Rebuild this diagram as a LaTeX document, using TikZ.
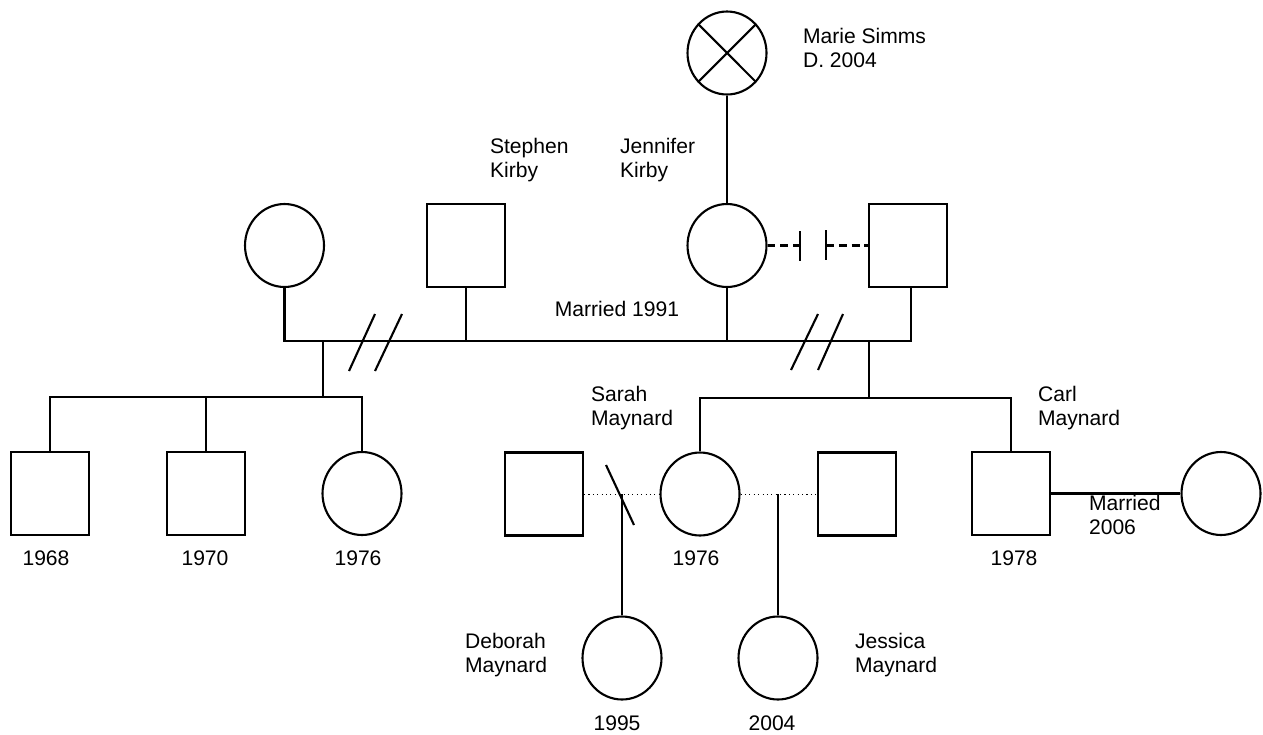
\documentclass[tikz,border=0pt]{standalone}
\usepackage{fontspec}
\setmainfont{Liberation Sans}
\usetikzlibrary{shapes.geometric, positioning, calc}

\begin{document}
\begin{tikzpicture}[x=0.02cm, y=-0.02cm, line width=1.2pt,
    male/.style={draw, rectangle, minimum width=1.56cm, minimum height=1.66cm, inner sep=0pt},
    female/.style={draw, ellipse, minimum width=1.58cm, minimum height=1.66cm, inner sep=0pt},
    lbl/.style={font=\fontsize{12}{14}\selectfont, align=left, anchor=north west, inner sep=0pt},
    yr/.style={font=\fontsize{12}{14}\selectfont, anchor=base, inner sep=0pt},
    partner/.style={line width=0.5pt, dash pattern=on 0.6pt off 1.9pt},
    divdash/.style={dash pattern=on 4.5pt off 2.8pt}]
    \useasboundingbox (0,0) rectangle (1263,734);

    % grandmother
    \node[female] (marie) at (727,53) {};
    \draw (marie.45) -- (marie.225) (marie.135) -- (marie.315);
    \node[lbl] (marieLbl) at (802,27) {Marie Simms\\D. 2004};

    % parents
    \node[female] (firstWife) at (284.5,245.5) {};
    \node[male] (stephen) at (466,245.5) {};
    \node[female] (jennifer) at (727,245.5) {};
    \node[male] (exHusband) at (908,245.5) {};
    \node[lbl] (stephenLbl) at (489,137) {Stephen\\Kirby};
    \node[lbl] (jenniferLbl) at (619,137) {Jennifer\\Kirby};
    \draw (marie) -- (jennifer);

    % divorce
    \coordinate (barA) at (800,245.5);
    \coordinate (barB) at (826,245.5);
    \draw[divdash] (jennifer.east) -- (barA);
    \draw (800,231) -- (800,261) (826,230) -- (826,260);
    \draw[divdash] (barB) -- (exHusband.west);

    % marriage line
    \coordinate (mL) at (284.5,341);
    \coordinate (mR) at (911,341);
    \draw (firstWife.south) -- (firstWife.south |- mL) -- (mR) -- (exHusband.south -| mR);
    \draw (stephen.south) -- (stephen.south |- mL);
    \draw (jennifer.south) -- (jennifer.south |- mL);
    \node[yr] (m1991) at (617,316) {Married 1991};
    \draw (375,314) -- (349,371) (402,314) -- (375,371);
    \draw (818,314) -- (791,370) (843,314) -- (818,370);

    % children of the first marriage
    \coordinate (sibL) at (323,397);
    \node[male] (k1968) at (50,493.5) {};
    \node[male] (k1970) at (206,493.5) {};
    \node[female] (k1976) at (362,493.5) {};
    \draw (sibL |- mL) -- (sibL);
    \draw (k1968.north) -- (k1968.north |- sibL) -- (k1976.north |- sibL) -- (k1976.north);
    \draw (k1970.north) -- (k1970.north |- sibL);
    \node[yr] (y1968) at (46,565) {1968};
    \node[yr] (y1970) at (205,565) {1970};
    \node[yr] (y1976a) at (358,565) {1976};

    % children of Jennifer
    \coordinate (sibR) at (869,398);
    \node[female] (sarah) at (700,494) {};
    \node[male] (carl) at (1011,493.5) {};
    \draw (sibR |- mR) -- (sibR);
    \draw (sarah.north) -- (sarah.north |- sibR) -- (carl.north |- sibR) -- (carl.north);
    \node[lbl] (sarahLbl) at (590,385) {Sarah\\Maynard};
    \node[lbl] (carlLbl) at (1037,385) {Carl\\Maynard};
    \node[yr] (y1976b) at (696,565) {1976};
    \node[yr] (y1978) at (1014,565) {1978};

    % Carl married
    \node[female] (carlWife) at (1221,493.5) {};
    \draw (carl.east) -- (carlWife.west);
    \node[lbl] (m2006) at (1088,494) {Married\\2006};

    % Sarah's partners
    \node[male] (partnerA) at (544,494) {};
    \node[male] (partnerB) at (857,494) {};
    \draw[partner] (partnerA.east) -- (sarah.west);
    \draw[partner] (sarah.east) -- (partnerB.west);
    \draw (606,465) -- (634,525);

    % grandchildren
    \node[female] (deborah) at (622,658) {};
    \node[female] (jessica) at (778,658) {};
    \draw (deborah.north) -- (deborah.north |- partnerA.east);
    \draw (jessica.north) -- (jessica.north |- partnerB.west);
    \node[lbl] (deborahLbl) at (464,632) {Deborah\\Maynard};
    \node[lbl] (jessicaLbl) at (854,632) {Jessica\\Maynard};
    \node[yr] (y1995) at (617,730) {1995};
    \node[yr] (y2004) at (772,730) {2004};
\end{tikzpicture}
\end{document}
